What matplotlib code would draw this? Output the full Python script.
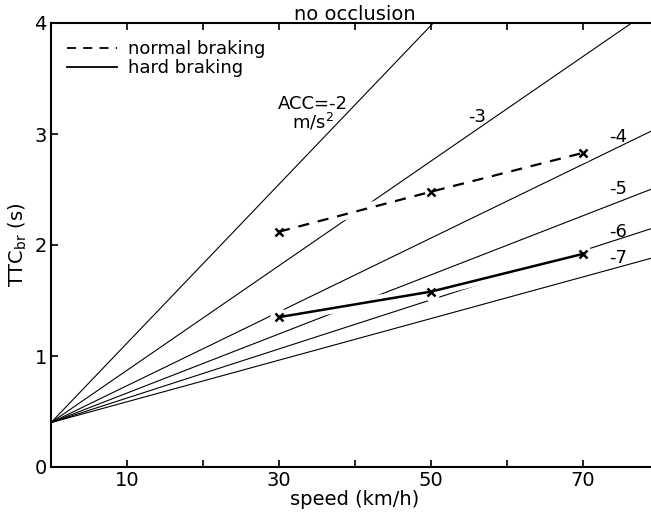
import matplotlib.pyplot as plt

# reference lines: TTC at speed 0 and end point
acc_labels = ['-2', '-3', '-4', '-5', '-6', '-7']
line_start = (0, 0.4)
line_end_x = [50.3, 76.4, 80, 80, 80, 80]
line_end_y = [4.0, 4.0, 3.06, 2.53, 2.17, 1.90]

speeds = [30, 50, 70]
normal_braking = [2.12, 2.48, 2.83]
hard_braking = [1.35, 1.58, 1.92]

fig = plt.figure(figsize=(6.51, 5.23), dpi=100)
ax = fig.add_axes([51 / 651, 1 - 467 / 523, 608 / 651, 444 / 523])

for xe, ye in zip(line_end_x, line_end_y):
    ax.plot([line_start[0], xe], [line_start[1], ye], color='black', lw=0.8, zorder=1)

# white band so the thin lines break where the data lines cross them
for vals in (normal_braking, hard_braking):
    ax.plot(speeds, vals, color='white', lw=8, solid_capstyle='round', zorder=2)
    ax.plot(speeds, vals, 'o', color='white', ms=12, zorder=2)

ax.plot(speeds, normal_braking, color='black', lw=1.6, ls=(0, (5, 4)), zorder=3,
        label='normal braking')
ax.plot(speeds, hard_braking, color='black', lw=1.8, zorder=3, label='hard braking')
ax.plot(speeds, normal_braking, 'x', color='black', ms=6, mew=1.8, zorder=4)
ax.plot(speeds, hard_braking, 'x', color='black', ms=6, mew=1.8, zorder=4)

# line labels
ax.text(34.5, 3.18, 'ACC=-2\nm/s$^2$', ha='center', va='center', fontsize=13,
        linespacing=0.9)
ax.text(56.1, 3.15, '-3', ha='center', va='center', fontsize=13)
ax.text(74.6, 2.97, '-4', ha='center', va='center', fontsize=13)
ax.text(74.6, 2.50, '-5', ha='center', va='center', fontsize=13)
ax.text(74.6, 2.12, '-6', ha='center', va='center', fontsize=13)
ax.text(74.6, 1.88, '-7', ha='center', va='center', fontsize=13)

leg = ax.legend(loc='upper left', frameon=False, fontsize=13, handlelength=2.8,
                handletextpad=0.6, labelspacing=0.05, borderaxespad=0.3,
                bbox_to_anchor=(0.005, 0.99))
for h in leg.get_lines():
    h.set_linewidth(1.3)

ax.set_xlim(0, 80)
ax.set_ylim(0, 4)
ax.set_xticks(range(10, 80, 10))
ax.set_xticklabels(['10', '', '30', '', '50', '', '70'])
ax.set_yticks([0, 1, 2, 3, 4])
ax.tick_params(direction='in', length=5, width=1.2, labelsize=14, top=True,
               pad=3)
for side in ('left', 'bottom', 'top'):
    ax.spines[side].set_linewidth(1.5)
ax.spines['right'].set_visible(False)

ax.set_title('no occlusion', fontsize=14, pad=2)
ax.set_xlabel('speed (km/h)', fontsize=14, labelpad=0)
ax.set_ylabel('TTC$_\\mathrm{br}$ (s)', fontsize=14, labelpad=4)

fig.savefig('out.png', dpi=100)
